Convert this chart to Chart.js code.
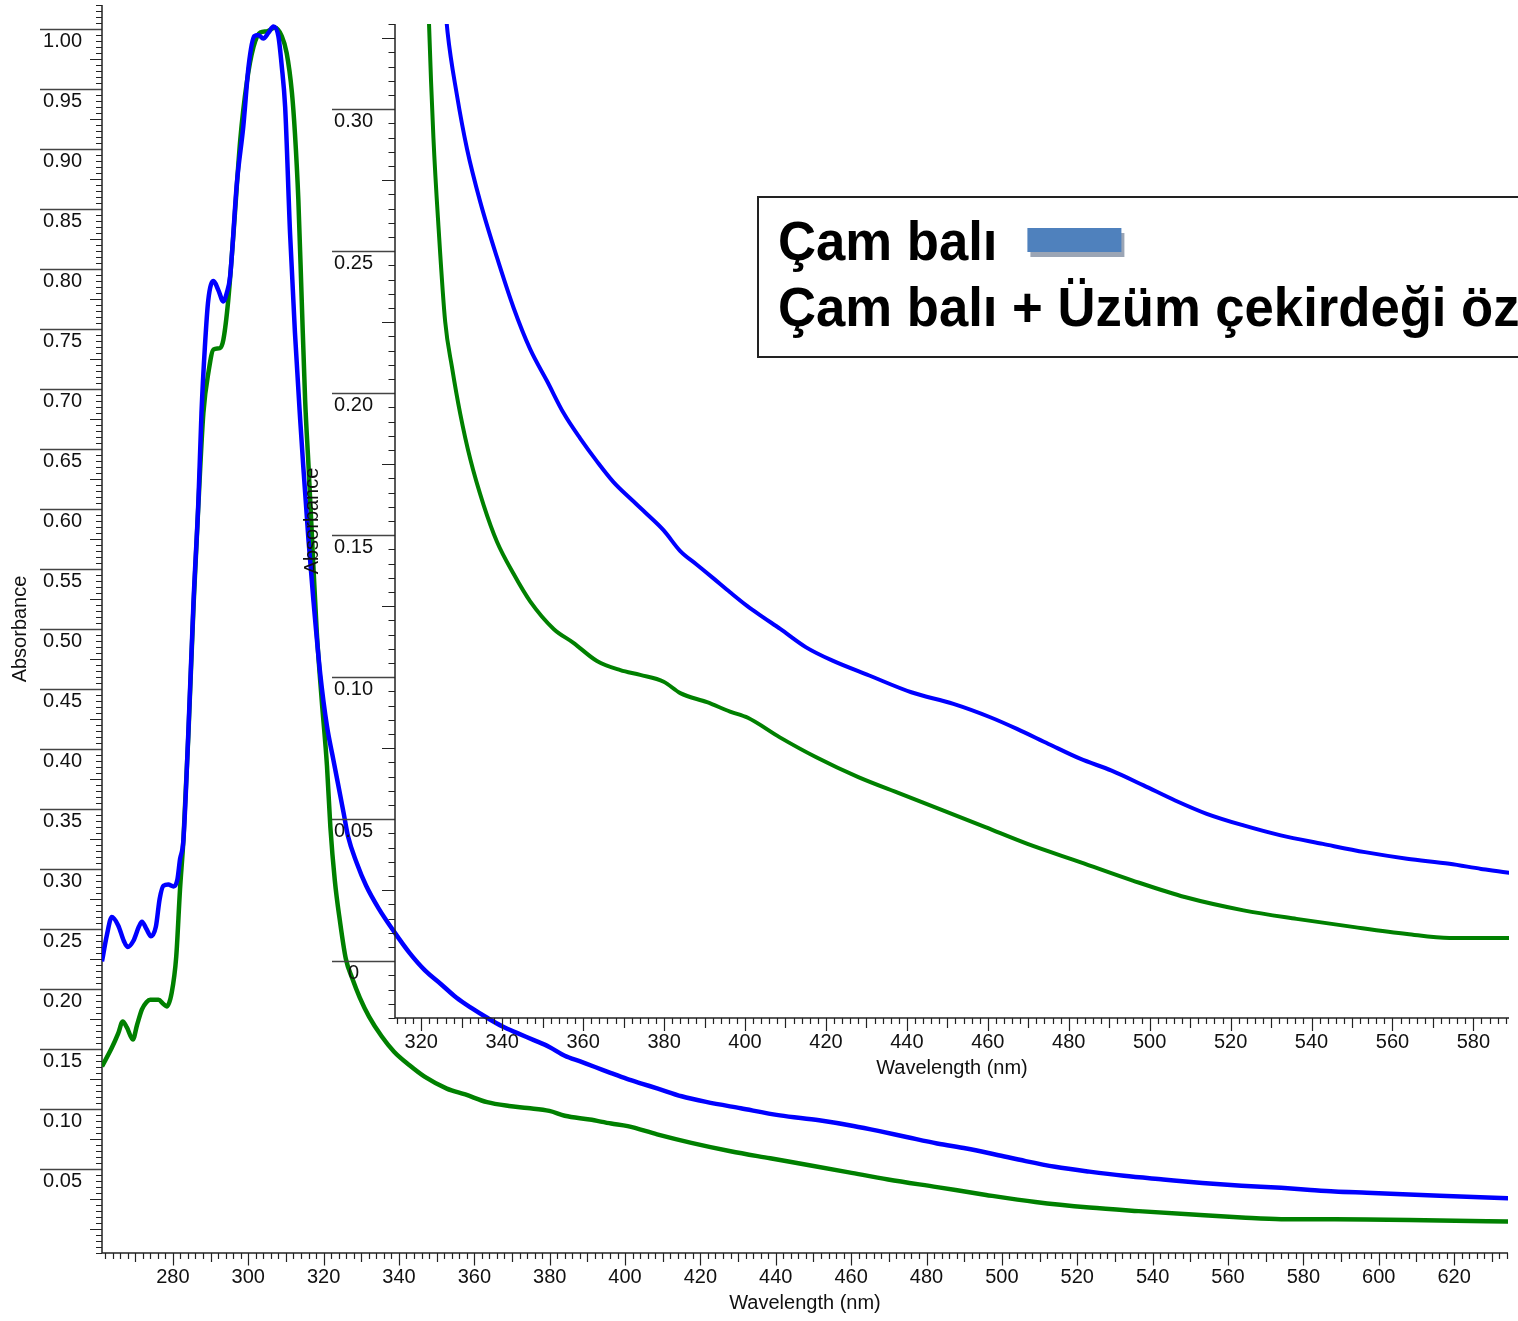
<!DOCTYPE html>
<html>
<head>
<meta charset="utf-8">
<script src="https://cdn.jsdelivr.net/npm/chart.js@4.4.0/dist/chart.umd.min.js"></script>
<style>
  html, body { margin: 0; padding: 0; background: #fff; }
  #wrap { position: relative; width: 1518px; height: 1321px; overflow: hidden; }
  #mainChart { position: absolute; left: 0; top: 0; }
  #insetChart { position: absolute; left: 290px; top: 0; }
</style>
</head>
<body>
<div id="wrap">
  <canvas id="mainChart" width="1518" height="1321"></canvas>
  <canvas id="insetChart" width="1228" height="1088"></canvas>
</div>
<script>
// Çam balı (blue)
const blueNm = [261.2, 262.5, 263.8, 265.5, 267.0, 268.0, 269.5, 271.0, 271.8, 273.0, 274.2, 275.5, 276.5, 277.5,
  278.8, 280.2, 281.2, 281.9, 282.8, 284.1, 285.5, 286.8, 287.6, 288.5, 289.4, 290.8, 292.0, 293.4, 294.3, 295.2,
  297.0, 298.7, 300.1, 301.6, 302.7, 304.0, 305.4, 306.7, 308.0, 308.9, 309.8, 311.1, 312.4, 313.8, 314.6, 316.0,
  317.3, 319.1, 320.9, 322.6, 325.3, 326.5, 328.8, 331.3, 334.6, 338.7, 342.8, 346.9, 351.1, 355.2, 359.3, 363.4,
  367.5, 371.6, 375.8, 379.9, 384.0, 388.1, 392.2, 396.3, 400.5, 404.6, 408.7, 415.0, 421.5, 430.7, 441.1, 451.5,
  460.6, 467.2, 475.0, 482.8, 490.6, 498.5, 506.3, 514.1, 523.2, 532.4, 542.8, 553.2, 563.6, 574.1, 581.9, 588.3,
  596.8, 616.2, 635.0];
const blueAbs = [0.223, 0.245, 0.260, 0.253, 0.240, 0.235, 0.240, 0.252, 0.256, 0.250, 0.244, 0.252, 0.275, 0.286,
  0.287, 0.2855, 0.291, 0.308, 0.324, 0.413, 0.524, 0.608, 0.680, 0.735, 0.774, 0.790, 0.783, 0.773, 0.780, 0.794,
  0.872, 0.919, 0.969, 0.994, 0.995, 0.992, 0.997, 1.002, 0.994, 0.969, 0.935, 0.830, 0.747, 0.674, 0.636, 0.574,
  0.524, 0.463, 0.419, 0.391, 0.347, 0.327, 0.305, 0.286, 0.2672, 0.2478, 0.2301, 0.2155, 0.2042, 0.1929, 0.1840, 0.1760,
  0.1687, 0.1630, 0.1574, 0.1517, 0.1444, 0.1396, 0.1348, 0.1299, 0.1251, 0.1210, 0.1170, 0.1106, 0.1059, 0.1006, 0.0947, 0.0906,
  0.0859, 0.0818, 0.0765, 0.0713, 0.0671, 0.0619, 0.0566, 0.0519, 0.0478, 0.0443, 0.0413, 0.0384, 0.0361, 0.0343, 0.0325, 0.0312,
  0.0302, 0.0278, 0.0256];

// Çam balı + Üzüm çekirdeği özü (green)
const greenNm = [261.2, 263.8, 265.5, 266.7, 267.8, 269.4, 270.5, 271.8, 273.0, 274.0, 276.2, 277.5, 278.4, 279.7,
  280.9, 281.9, 282.8, 284.1, 285.5, 286.8, 288.1, 289.5, 290.8, 292.5, 293.4, 294.7, 296.1, 297.9, 299.6, 301.4,
  303.2, 304.9, 307.1, 308.9, 310.2, 311.6, 312.4, 313.3, 314.2, 315.1, 316.0, 317.3, 318.2, 319.5, 320.9, 321.8,
  323.0, 324.3, 325.9, 327.6, 329.6, 332.1, 335.4, 338.7, 342.8, 346.9, 352.7, 357.6, 363.4, 369.2, 374.1, 379.9,
  384.0, 390.6, 396.3, 400.7, 408.5, 417.6, 428.0, 438.5, 448.9, 459.4, 469.8, 482.8, 495.8, 508.9, 523.2, 536.3,
  550.6, 563.6, 574.1, 588.3, 596.8, 616.2, 635.0];
const greenAbs = [0.1355, 0.151, 0.163, 0.173, 0.168, 0.158, 0.170, 0.183, 0.189, 0.191, 0.191, 0.1875, 0.1855, 0.197,
  0.227, 0.283, 0.324, 0.410, 0.520, 0.605, 0.680, 0.715, 0.733, 0.734, 0.741, 0.774, 0.830, 0.908, 0.955, 0.985,
  0.997, 0.998, 1.001, 0.994, 0.980, 0.947, 0.913, 0.858, 0.774, 0.691, 0.636, 0.552, 0.497, 0.441, 0.386, 0.335,
  0.2898, 0.2575, 0.2252, 0.2090, 0.1929, 0.1768, 0.1606, 0.1477, 0.1364, 0.1267, 0.1170, 0.1121, 0.1057, 0.1025, 0.1008, 0.0984,
  0.0944, 0.0912, 0.0879, 0.0857, 0.0789, 0.0718, 0.0648, 0.0589, 0.0531, 0.0472, 0.0413, 0.0349, 0.0284, 0.0225, 0.0179, 0.0149,
  0.0120, 0.0096, 0.0082, 0.0082, 0.0080, 0.0070, 0.0062];

const mainXTicks = [280, 300, 320, 340, 360, 380, 400, 420, 440, 460, 480, 500, 520, 540, 560, 580, 600, 620];
const mainYTicks = [0.05, 0.10, 0.15, 0.20, 0.25, 0.30, 0.35, 0.40, 0.45, 0.50, 0.55, 0.60, 0.65, 0.70, 0.75, 0.80, 0.85, 0.90, 0.95, 1.00];
const insetXTicks = [320, 340, 360, 380, 400, 420, 440, 460, 480, 500, 520, 540, 560, 580];
const insetYTicks = [0, 0.05, 0.10, 0.15, 0.20, 0.25, 0.30];

const seriesNames = ['Çam balı', 'Çam balı + Üzüm çekirdeği özü'];

Chart.defaults.font.family = '"Liberation Sans", Arial, sans-serif';
Chart.defaults.color = '#111';

function lineSet(label, nm, abs, color, width) {
  return {
    label: label,
    data: nm.map((x, i) => ({ x: x, y: abs[i] })),
    borderColor: color,
    borderWidth: width,
    pointRadius: 0,
    fill: false,
    cubicInterpolationMode: 'monotone'
  };
}

// tick marks: minor / mid / long lines, drawn off the chart's own scales
function tickMarks(cfg) {
  return {
    id: 'tickMarks',
    beforeDatasetsDraw(chart) {
      const { ctx, chartArea: a, scales: { x, y } } = chart;
      ctx.save();
      ctx.strokeStyle = '#222';
      ctx.lineWidth = 1.2;
      ctx.beginPath();
      for (let k = Math.ceil(x.min / 2); k * 2 <= x.max; k++) {
        const v = k * 2;
        const px = Math.round(x.getPixelForValue(v)) + 0.5;
        const len = v % 20 === 0 ? cfg.xMajor : (v % 10 === 0 ? cfg.xMid : cfg.xMinor);
        ctx.moveTo(px, a.bottom);
        ctx.lineTo(px, a.bottom + len);
      }
      for (let k = Math.ceil(y.min / 0.005 - 1e-6); k * 0.005 <= y.max + 1e-9; k++) {
        const v = k * 0.005;
        if (cfg.yLabels.some(t => Math.abs(t - v) < 1e-9)) continue;
        const py = Math.round(y.getPixelForValue(v)) + 0.5;
        const len = k % 5 === 0 ? cfg.yMid : cfg.yMinor;
        ctx.moveTo(a.left - len, py);
        ctx.lineTo(a.left, py);
      }
      ctx.stroke();

      ctx.strokeStyle = '#444';
      ctx.lineWidth = 1.5;
      ctx.beginPath();
      cfg.yLabels.forEach(v => {
        const py = Math.round(y.getPixelForValue(v)) + 0.5;
        ctx.moveTo(a.left - cfg.yMajor, py);
        ctx.lineTo(a.left, py);
      });
      ctx.stroke();

      ctx.strokeStyle = '#222';
      ctx.lineWidth = 1.5;
      ctx.beginPath();
      ctx.moveTo(a.left, a.top);
      ctx.lineTo(a.left, a.bottom);
      ctx.lineTo(a.right, a.bottom);
      ctx.stroke();
      ctx.restore();
    }
  };
}

const legendBox = {
  id: 'legendBox',
  afterDraw(chart) {
    const ctx = chart.ctx;
    const left = 468, top = 197, rows = [260, 326];
    ctx.save();
    ctx.fillStyle = '#fff';
    ctx.fillRect(left, top, chart.width, 160);
    ctx.strokeStyle = '#222';
    ctx.lineWidth = 2;
    ctx.strokeRect(left, top, chart.width, 160);
    ctx.font = 'bold 56px "Liberation Sans", Arial, sans-serif';
    ctx.textBaseline = 'alphabetic';
    chart.data.datasets.forEach((ds, i) => {
      ctx.save();
      ctx.translate(left + 20, rows[i]);
      ctx.scale(0.94, 1);
      ctx.fillStyle = '#000';
      ctx.fillText(ds.label, 0, 0);
      const w = ctx.measureText(ds.label).width * 0.94;
      ctx.restore();
      const sx = left + 20 + w + 30;
      if (sx < chart.width) {
        ctx.fillStyle = '#9ba5b5';
        ctx.fillRect(sx + 3, rows[i] - 27, 94, 24);
        ctx.fillStyle = '#4f81bd';
        ctx.fillRect(sx, rows[i] - 32, 94, 24);
      }
    });
    ctx.restore();
  }
};

function axisOptions(o) {
  return {
    x: {
      type: 'linear', min: o.xMin, max: o.xMax,
      afterBuildTicks: s => { s.ticks = o.xTicks.map(v => ({ value: v })); },
      afterFit: s => { s.height = o.xHeight; s.paddingLeft = 0; s.paddingRight = 0; },
      grid: { display: false, drawTicks: false },
      border: { display: false },
      ticks: { padding: 12, autoSkip: false, maxRotation: 0, font: { size: 20 }, color: '#111' },
      title: { display: true, text: 'Wavelength (nm)', font: { size: 20 }, color: '#111', padding: { top: 0, bottom: o.xTitlePad } }
    },
    y: {
      type: 'linear', min: o.yMin, max: o.yMax,
      afterBuildTicks: s => { s.ticks = o.yTicks.map(v => ({ value: v })); },
      afterFit: s => { s.width = o.yWidth; s.paddingTop = 0; s.paddingBottom = 0; },
      grid: { display: false, drawTicks: false },
      border: { display: false },
      ticks: {
        padding: o.yLabelPad, crossAlign: 'center', labelOffset: 12, autoSkip: false,
        font: { size: 20 }, color: '#111',
        callback: v => (v === 0 ? '0' : v.toFixed(2))
      },
      title: { display: true, text: 'Absorbance', font: { size: 20 }, color: '#111', padding: { top: o.yTitlePad, bottom: 0 } }
    }
  };
}

new Chart(document.getElementById('mainChart').getContext('2d'), {
  type: 'line',
  data: {
    datasets: [
      lineSet(seriesNames[0], blueNm, blueAbs, '#0000ff', 4.5),
      lineSet(seriesNames[1], greenNm, greenAbs, '#008000', 4.5)
    ]
  },
  options: {
    responsive: false,
    animation: false,
    layout: { padding: { top: 5, right: 10, bottom: 0, left: 0 } },
    plugins: { legend: { display: false }, tooltip: { enabled: false } },
    scales: axisOptions({
      xMin: 261.2, xMax: 634.3, xTicks: mainXTicks, xHeight: 68, xTitlePad: 6,
      yMin: -0.02, yMax: 1.02, yTicks: mainYTicks, yWidth: 102, yLabelPad: 20, yTitlePad: 8
    })
  },
  plugins: [tickMarks({ xMajor: 12.5, xMid: 9, xMinor: 6, yMajor: 62, yMid: 12, yMinor: 6, yLabels: mainYTicks })]
});

new Chart(document.getElementById('insetChart').getContext('2d'), {
  type: 'line',
  data: {
    datasets: [
      lineSet(seriesNames[0], blueNm, blueAbs, '#0000ff', 4),
      lineSet(seriesNames[1], greenNm, greenAbs, '#008000', 4)
    ]
  },
  options: {
    responsive: false,
    animation: false,
    layout: { padding: { top: 24, right: 9, bottom: 0, left: 0 } },
    plugins: { legend: { display: false }, tooltip: { enabled: false } },
    scales: axisOptions({
      xMin: 313.5, xMax: 588.8, xTicks: insetXTicks, xHeight: 70, xTitlePad: 8,
      yMin: -0.02, yMax: 0.33, yTicks: insetYTicks, yWidth: 105, yLabelPad: 22, yTitlePad: 10
    })
  },
  plugins: [tickMarks({ xMajor: 13, xMid: 10, xMinor: 6, yMajor: 63, yMid: 13, yMinor: 6.5, yLabels: insetYTicks }), legendBox]
});
</script>
</body>
</html>
